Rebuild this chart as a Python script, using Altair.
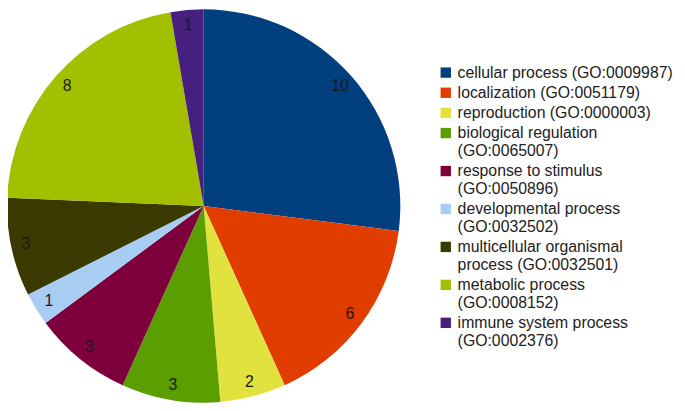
import altair as alt
import pandas as pd

categories = [
    "cellular process (GO:0009987)",
    "localization (GO:0051179)",
    "reproduction (GO:0000003)",
    "biological regulation\n(GO:0065007)",
    "response to stimulus\n(GO:0050896)",
    "developmental process\n(GO:0032502)",
    "multicellular organismal\nprocess (GO:0032501)",
    "metabolic process\n(GO:0008152)",
    "immune system process\n(GO:0002376)",
]
values = [10, 6, 2, 3, 3, 1, 3, 8, 1]
colors = ["#023f7f", "#e13d00", "#e2e23e", "#5b9e00", "#7d003c",
          "#a8cdf2", "#3a3a00", "#a3c000", "#47207f"]

df = pd.DataFrame({"category": categories, "value": values, "order": list(range(len(values)))})

base = alt.Chart(df).encode(
    theta=alt.Theta("value:Q", stack=True),
    order=alt.Order("order:Q"),
)

pie = base.mark_arc(outerRadius=199, stroke=None).encode(
    color=alt.Color(
        "category:N",
        scale=alt.Scale(domain=categories, range=colors),
        sort=None,
        legend=alt.Legend(
            title=None,
            orient="none",
            legendX=435,
            legendY=55,
            symbolType="square",
            symbolSize=110,
            symbolStrokeWidth=0,
            labelFont="Liberation Sans",
            labelFontSize=16,
            labelColor="#222222",
            labelLimit=400,
            labelOffset=4,
            labelExpr="split(datum.label, '\\n')",
            rowPadding=4.4,
        ),
    )
)

labels = base.mark_text(radius=184, font="Liberation Sans", fontSize=16, color="#1a1a1a").encode(
    text=alt.Text("value:Q")
)

chart = (pie + labels).properties(
    width=396,
    height=396,
    padding={"left": 0, "top": 0, "right": 281, "bottom": 0},
    autosize=alt.AutoSizeParams(type="none"),
).configure_view(stroke=None)

chart.save("out.html", embed_options={"renderer": "svg", "actions": False})
